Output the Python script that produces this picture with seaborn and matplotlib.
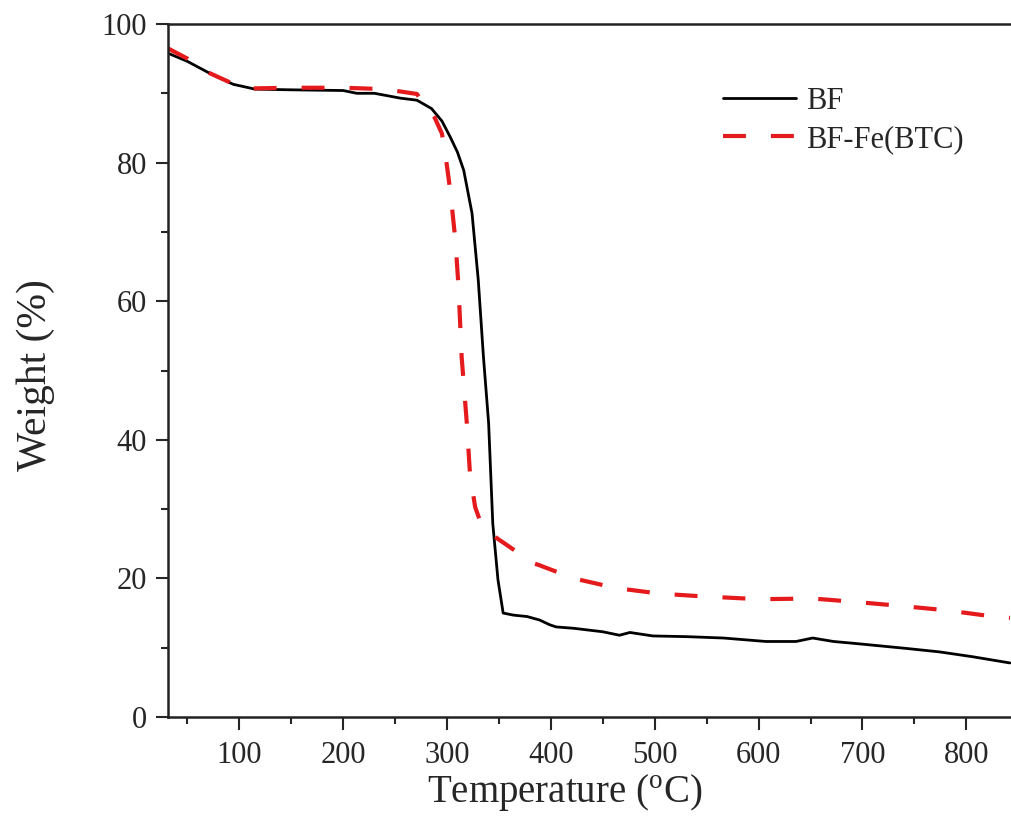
import pandas as pd
import numpy as np
import matplotlib
matplotlib.use("Agg")
import matplotlib.pyplot as plt
from matplotlib.ticker import MultipleLocator
import seaborn as sns

# curva TGA del BF
temp_bf = [31, 50, 70, 94, 115, 150, 200, 213, 230, 255, 271, 285, 295, 303, 310, 316, 324, 330,
           335, 340, 344, 349, 354, 364, 377, 389, 399, 405, 422, 450, 466, 476, 498, 530, 566, 607,
           636, 652, 672, 694, 742, 774, 806, 842]
peso_bf = [95.8, 94.6, 93.0, 91.3, 90.6, 90.5, 90.4, 90.0, 90.0, 89.3, 89.0, 87.8, 86.0, 83.7, 81.5,
           78.9, 72.7, 63.1, 52.0, 42.4, 27.9, 19.8, 15.0, 14.7, 14.5, 14.0, 13.3, 13.0, 12.8, 12.3,
           11.8, 12.2, 11.7, 11.6, 11.4, 10.9, 10.9, 11.4, 10.9, 10.6, 9.9, 9.4, 8.7, 7.8]

# curva TGA del BF-Fe(BTC)
temp_fe = [31, 50, 70, 95, 110, 150, 200, 240, 271, 277, 288, 295, 298, 303, 308, 311, 314, 319,
           322, 327, 332, 348, 383, 389, 422, 463, 505, 547, 601, 652, 694, 739, 781, 826, 842]
peso_fe = [96.5, 95.0, 93.0, 91.3, 90.7, 90.8, 90.8, 90.6, 89.9, 88.6, 86.5, 84.2, 81.6, 76.0, 68.8,
           62.1, 52.0, 42.4, 35.2, 30.3, 28.2, 25.8, 22.2, 21.9, 20.0, 18.6, 17.8, 17.4, 17.0, 17.1,
           16.6, 16.0, 15.4, 14.5, 14.3]

df = pd.concat([
    pd.DataFrame({"T": temp_bf, "W": peso_bf, "muestra": "BF"}),
    pd.DataFrame({"T": temp_fe, "W": peso_fe, "muestra": "BF-Fe(BTC)"}),
])

sns.set_style("ticks")
plt.rcParams['font.family'] = ['Liberation Serif', 'DejaVu Serif']
plt.rcParams['mathtext.fontset'] = 'custom'
plt.rcParams['mathtext.rm'] = 'Liberation Serif'

fig = plt.figure(figsize=(10.11, 8.16), dpi=100)
ax = fig.add_axes([0.1659, 0.1213, 0.8341, 0.8493])

sns.lineplot(data=df[df.muestra == "BF"], x="T", y="W", color="black", lw=2.0,
             label="BF", ax=ax, estimator=None, sort=False)
sns.lineplot(data=df[df.muestra == "BF-Fe(BTC)"], x="T", y="W", color="#e41a1c", lw=3.0,
             label="BF-Fe(BTC)", ax=ax, estimator=None, sort=False, dashes=False)
ax.lines[1].set_dashes([5.5, 6])

ax.set_xlim(31, 843)
ax.set_ylim(0, 100)
ax.xaxis.set_major_locator(MultipleLocator(100))
ax.xaxis.set_minor_locator(MultipleLocator(50))
ax.yaxis.set_major_locator(MultipleLocator(20))
ax.yaxis.set_minor_locator(MultipleLocator(10))
ax.tick_params(which='major', direction='out', length=9, width=1.5, labelsize=22, pad=6)
ax.tick_params(axis='x', which='major', pad=8)
ax.tick_params(which='minor', direction='out', length=5, width=1.5)
ax.tick_params(top=False, right=False, which='both')
for lado in ['left', 'bottom', 'top']:
    ax.spines[lado].set_linewidth(1.8)
    ax.spines[lado].set_color('#222222')
ax.spines['right'].set_visible(False)

ax.set_xlabel("Temperature ($^{\\mathrm{o}}$C)", fontsize=28)
ax.set_ylabel("Weight (%)", fontsize=30)
ax.xaxis.set_label_coords(0.471, -0.08)
ax.yaxis.set_label_coords(-0.134, 0.493)

ax.legend(loc='upper left', bbox_to_anchor=(0.626, 0.949), frameon=False, fontsize=22,
          handlelength=2.4, handletextpad=0.3, labelspacing=0.3)

fig.savefig("out.png", dpi=100)
